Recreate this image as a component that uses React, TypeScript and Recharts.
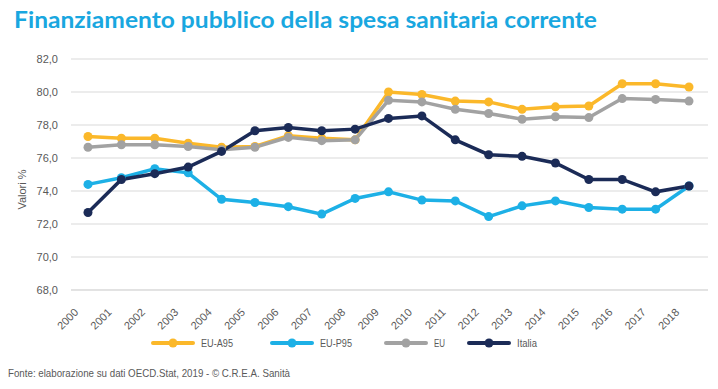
import { LineChart, Line, XAxis, YAxis, CartesianGrid, Label } from 'recharts';

const years = ['2000', '2001', '2002', '2003', '2004', '2005', '2006', '2007', '2008', '2009', '2010', '2011', '2012', '2013', '2014', '2015', '2016', '2017', '2018'];
const euA95 = [77.3, 77.2, 77.2, 76.9, 76.65, 76.7, 77.35, 77.2, 77.1, 80.0, 79.85, 79.45, 79.4, 78.95, 79.1, 79.15, 80.5, 80.5, 80.3];
const euP95 = [74.4, 74.8, 75.35, 75.1, 73.5, 73.3, 73.05, 72.6, 73.55, 73.95, 73.45, 73.4, 72.45, 73.1, 73.4, 73.0, 72.9, 72.9, 74.3];
const eu = [76.65, 76.8, 76.8, 76.7, 76.5, 76.65, 77.25, 77.05, 77.1, 79.5, 79.4, 78.95, 78.7, 78.35, 78.5, 78.45, 79.6, 79.55, 79.45];
const italia = [72.7, 74.7, 75.05, 75.45, 76.4, 77.65, 77.85, 77.65, 77.75, 78.4, 78.55, 77.1, 76.2, 76.1, 75.7, 74.7, 74.7, 73.95, 74.3];
const yTicks = [68, 70, 72, 74, 76, 78, 80, 82];

const series = [
  { key: 'EU-A95', values: euA95, color: '#FBB82A' },
  { key: 'EU-P95', values: euP95, color: '#1DB0E6' },
  { key: 'EU', values: eu, color: '#A2A2A2' },
  { key: 'Italia', values: italia, color: '#1B2B57' },
];

const data = years.map((year, i) => {
  const row: Record<string, string | number> = { year };
  series.forEach((s) => {
    row[s.key] = s.values[i];
  });
  return row;
});

const font = '"Liberation Sans Narrow", "Liberation Sans", Arial, sans-serif';
const legendLeft = [153, 272, 386, 469];
const legendTextWidth = [32, 32, 11, 20];

const YearTick = (props: any) => {
  const { x, y, payload } = props;
  const ax = x - 9;
  const ay = y + 15;
  return (
    <text
      x={ax}
      y={ay}
      transform={`rotate(-45, ${ax}, ${ay})`}
      textAnchor="end"
      fontSize={11}
      fill="#595959"
      fontFamily={font}
    >
      {payload.value}
    </text>
  );
};

const App = () => {
  return (
    <div style={{ position: 'absolute', left: 0, top: 0, width: 718, height: 389, background: '#fff' }}>
      <svg width={718} height={40} style={{ position: 'absolute', left: 0, top: 0 }}>
        <text
          x={14}
          y={28}
          fontSize={22}
          fontWeight={700}
          fill="#19A7E0"
          fontFamily="Lato, 'Open Sans', sans-serif"
          textLength={583}
          lengthAdjust="spacingAndGlyphs"
        >
          Finanziamento pubblico della spesa sanitaria corrente
        </text>
      </svg>
      <div style={{ position: 'absolute', left: 0, top: 0 }}>
        <LineChart width={718} height={389} data={data} margin={{ top: 59, right: 10, bottom: 59, left: 0 }}>
          <CartesianGrid vertical={false} stroke="#D9D9D9" />
          <XAxis
            dataKey="year"
            height={40}
            interval={0}
            padding={{ left: 17, right: 19 }}
            axisLine={{ stroke: '#D9D9D9' }}
            tickLine={false}
            tick={<YearTick />}
          />
          <YAxis
            width={71}
            domain={[68, 82]}
            ticks={yTicks}
            axisLine={false}
            tickLine={false}
            tickSize={0}
            tickMargin={13}
            tickFormatter={(v: number) => v.toFixed(1).replace('.', ',')}
            tick={{ fontSize: 11, fill: '#595959', fontFamily: font }}
          >
            <Label
              value="Valori %"
              angle={-90}
              position="insideLeft"
              offset={22}
              dy={15}
              style={{ fontSize: 11, fill: '#595959', fontFamily: font, textAnchor: 'middle' }}
            />
          </YAxis>
          {series.map((s) => (
            <Line
              key={s.key}
              dataKey={s.key}
              stroke={s.color}
              strokeWidth={3.5}
              dot={{ r: 4.5, fill: s.color, stroke: s.color, strokeWidth: 0 }}
              isAnimationActive={false}
            />
          ))}
        </LineChart>
      </div>
      <svg width={718} height={389} style={{ position: 'absolute', left: 0, top: 0, pointerEvents: 'none' }}>
        {series.map((s, i) => (
          <g key={s.key} transform={`translate(${legendLeft[i]}, 343)`}>
            <line x1={0} y1={0} x2={40} y2={0} stroke={s.color} strokeWidth={4} strokeLinecap="round" />
            <circle cx={20} cy={0} r={4.5} fill={s.color} />
            <text
              x={48}
              y={4}
              fontSize={11}
              fill="#595959"
              fontFamily={font}
              textLength={legendTextWidth[i]}
              lengthAdjust="spacingAndGlyphs"
            >
              {s.key}
            </text>
          </g>
        ))}
        <text
          x={8}
          y={377}
          fontSize={11}
          fill="#595959"
          fontFamily={font}
          textLength={282}
          lengthAdjust="spacingAndGlyphs"
        >
          Fonte: elaborazione su dati OECD.Stat, 2019 - © C.R.E.A. Sanità
        </text>
      </svg>
    </div>
  );
};

export default App;
